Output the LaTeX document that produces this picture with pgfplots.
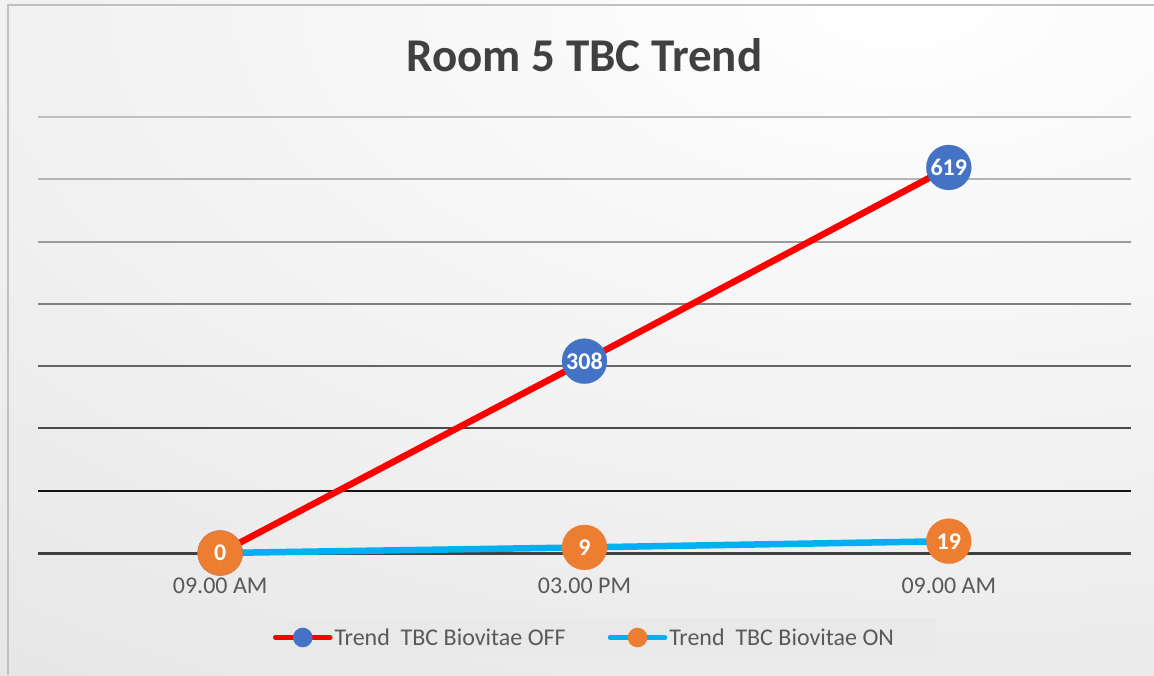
\documentclass[border=0pt]{standalone}
\usepackage{fontspec}
\setmainfont{Carlito}
\usepackage{pgfplots}
\pgfplotsset{compat=1.18}
\definecolor{mblue}{HTML}{4472C4}
\definecolor{morange}{HTML}{ED7D31}
\definecolor{lred}{HTML}{FF0000}
\definecolor{lcyan}{HTML}{00B0F0}
\definecolor{ttl}{HTML}{404040}
\definecolor{lbl}{HTML}{595959}
\definecolor{bgout}{HTML}{D6D6D6}
\definecolor{frame}{HTML}{C0C0C0}
\definecolor{legbg}{HTML}{E9E9E9}
\definecolor{g7}{HTML}{BFBFBF}
\definecolor{g6}{HTML}{B5B5B5}
\definecolor{g5}{HTML}{9A9A9A}
\definecolor{g4}{HTML}{808080}
\definecolor{g3}{HTML}{666666}
\definecolor{g2}{HTML}{4A4A4A}
\definecolor{g1}{HTML}{141414}
\definecolor{g0}{HTML}{404040}
\begin{document}
\begin{tikzpicture}[x=1pt,y=1pt]
\begin{scope}
\clip (0,0) rectangle (1154,-675);
\shade[inner color=white, outer color=bgout] (900,0) ellipse (2600 and 1400);
\end{scope}
\draw[frame, line width=2pt] (8,-675) -- (8,-5) -- (1154,-5);
\node[font=\fontsize{47}{56}\selectfont\bfseries, text=ttl, anchor=base] at (584.5,-71.7) {Room 5 TBC Trend};
\begin{axis}[
  at={(38pt,-553pt)}, anchor=south west,
  width=1093pt, height=436pt, scale only axis,
  xmin=-0.5, xmax=2.5, ymin=0, ymax=700,
  axis line style={draw=none},
  ytick=\empty,
  xtick={0,1,2},
  xticklabels={09.00 AM,03.00 PM,09.00 AM},
  major tick length=0pt,
  xticklabel style={font=\fontsize{24}{28}\selectfont, text=lbl, anchor=base, yshift=-40pt},
  clip=false,
  /pgf/number format/assume math mode=true,
  nodes near coords,
  nodes near coords align=center,
  every node near coord/.append style={anchor=center, font=\fontsize{24}{28}\selectfont\bfseries, text=white},
  legend columns=2,
  legend style={at={(0.5,-0.1938)}, anchor=center, draw=none, fill=legbg,
    font=\fontsize{24}{28}\selectfont, text=lbl,
    inner xsep=40pt, inner ysep=8pt,
    nodes={inner xsep=2pt, inner ysep=2pt},
    /tikz/every even column/.append style={column sep=40pt}},
]
\draw[g7, line width=2pt] (axis cs:-0.5,700) -- (axis cs:2.5,700);
\draw[g6, line width=2pt] (axis cs:-0.5,600) -- (axis cs:2.5,600);
\draw[g5, line width=2pt] (axis cs:-0.5,500) -- (axis cs:2.5,500);
\draw[g4, line width=2pt] (axis cs:-0.5,400) -- (axis cs:2.5,400);
\draw[g3, line width=2pt] (axis cs:-0.5,300) -- (axis cs:2.5,300);
\draw[g2, line width=2pt] (axis cs:-0.5,200) -- (axis cs:2.5,200);
\draw[g1, line width=2pt] (axis cs:-0.5,100) -- (axis cs:2.5,100);
\draw[g0, line width=3pt] (axis cs:-0.5,0) -- (axis cs:2.5,0);
\addplot[lred, line width=6.5pt, line cap=round, mark=*, mark size=22.5pt,
  mark options={draw=mblue, fill=mblue, line width=0.2pt},
  legend image code/.code={\draw[lred, line width=4.5pt, line cap=round] (0pt,0pt) -- (55pt,0pt); \fill[mblue] (27.5pt,0pt) circle (6.5pt);}]
  coordinates {(0,0) (1,308) (2,619)};
\addlegendentry{Trend\ \ TBC Biovitae OFF}
\addplot[lcyan, line width=6.5pt, line cap=round, mark=*, mark size=22.5pt,
  mark options={draw=morange, fill=morange, line width=0.2pt},
  legend image code/.code={\draw[lcyan, line width=4.5pt, line cap=round] (0pt,0pt) -- (55pt,0pt); \fill[morange] (27.5pt,0pt) circle (6.5pt);}]
  coordinates {(0,0) (1,9) (2,19)};
\addlegendentry{Trend\ \ TBC Biovitae ON}
\end{axis}
\pgfresetboundingbox
\path[use as bounding box] (0,0) rectangle (1154,-675);
\end{tikzpicture}
\end{document}
